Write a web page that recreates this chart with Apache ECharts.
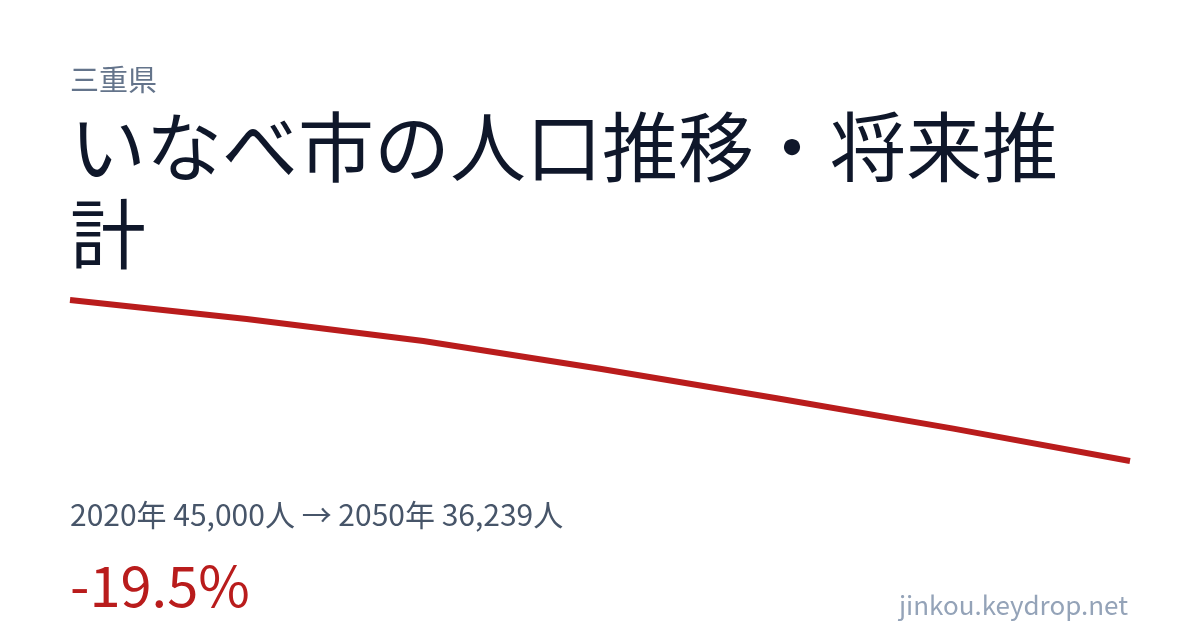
<!DOCTYPE html>
<html>
<head>
<meta charset="utf-8">
<script src="https://cdn.jsdelivr.net/npm/echarts@6/dist/echarts.min.js"></script>
<style>
html,body{margin:0;padding:0;background:#fff;}
#c{width:1200px;height:630px;}
</style>
</head>
<body>
<div id="c"></div>
<script>
const years = ['2020', '2025', '2030', '2035', '2040', '2045', '2050'];
const population = [45000, 43970, 42770, 41260, 39650, 38000, 36239];
const prefecture = '三重県';
const titleLine1 = 'いなべ市の人口推移・将来推';
const titleLine2 = '計';
const summary = '2020年 45,000人 → 2050年 36,239人';
const change = '-19.5%';
const site = 'jinkou.keydrop.net';

const FONT = '"Noto Sans CJK JP", "Noto Sans", sans-serif';
const chart = echarts.init(document.getElementById('c'), null, {renderer: 'canvas'});
chart.setOption({
  backgroundColor: '#ffffff',
  animation: false,
  grid: {left: 70, right: 70, top: 300, bottom: 169, containLabel: false},
  xAxis: {
    type: 'category', data: years, boundaryGap: false,
    show: false
  },
  yAxis: {
    type: 'value', min: 'dataMin', max: 'dataMax', show: false, scale: true
  },
  series: [{
    type: 'line', data: population, symbol: 'none', smooth: false,
    lineStyle: {color: '#b91c1c', width: 6, cap: 'butt', join: 'round'}
  }],
  graphic: [
    {type: 'text', x: 70, y: 80, style: {text: prefecture, font: '29px ' + FONT, fill: '#64748b', verticalAlign: 'middle', align: 'left'}},
    {type: 'text', x: 70, y: 147, style: {text: titleLine1, font: '76px ' + FONT, fill: '#0f172a', verticalAlign: 'middle', align: 'left'}},
    {type: 'text', x: 70, y: 234, style: {text: titleLine2, font: '76px ' + FONT, fill: '#0f172a', verticalAlign: 'middle', align: 'left'}},
    {type: 'text', x: 70, y: 515, style: {text: summary, font: '30px ' + FONT, fill: '#475569', verticalAlign: 'middle', align: 'left'}},
    {type: 'text', x: 70, y: 586, style: {text: change, font: '56px ' + FONT, fill: '#b91c1c', verticalAlign: 'middle', align: 'left'}},
    {type: 'text', x: 1128, y: 605, style: {text: site, font: '26px ' + FONT, fill: '#94a3b8', verticalAlign: 'middle', align: 'right'}}
  ]
});
</script>
</body>
</html>
